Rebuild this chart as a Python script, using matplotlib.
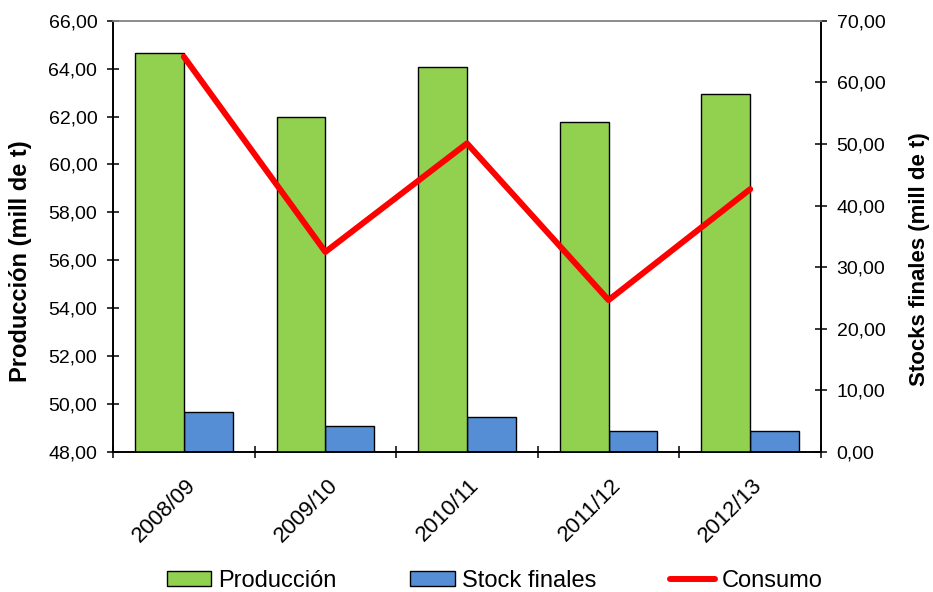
import matplotlib
matplotlib.use("Agg")
import matplotlib.pyplot as plt
import matplotlib.transforms as mtransforms
from matplotlib.ticker import FuncFormatter, FixedLocator
import numpy as np

plt.rcParams['font.family'] = ['Liberation Sans', 'DejaVu Sans']

categories = ["2008/09", "2009/10", "2010/11", "2011/12", "2012/13"]
produccion = [64.66, 61.98, 64.07, 61.76, 62.94]
stock_finales = [6.54, 4.28, 5.70, 3.41, 3.41]
consumo = [64.50, 56.35, 60.88, 54.34, 58.97]

green = "#92D050"
blue = "#558ED5"
red = "#FF0000"

fig = plt.figure(figsize=(9.33, 5.92), dpi=100)
ax = fig.add_axes([113/933, 1-452/592, (821-113)/933, (452-20.7)/592])
ax2 = ax.twinx()
ax.set_zorder(ax2.get_zorder() + 1)
ax.patch.set_visible(False)

x = np.arange(len(categories))
w = 0.344
b1 = ax.bar(x - w/2, produccion, width=w, color=green, edgecolor="black",
            linewidth=1.0, label="Producción")
b2 = ax2.bar(x + w/2, stock_finales, width=w, color=blue, edgecolor="black",
             linewidth=1.0, label="Stock finales")
l1, = ax.plot(x, consumo, color=red, linewidth=4.3, solid_capstyle="round",
              label="Consumo", zorder=5)

ax.set_xlim(-0.5, len(categories) - 0.5)
ax.set_ylim(48, 66)
ax2.set_ylim(0, 70)
ax.set_yticks(np.arange(48, 66.01, 2))
ax2.set_yticks(np.arange(0, 70.01, 10))

fmt = FuncFormatter(lambda v, p: f"{v:.2f}".replace(".", ","))
ax.yaxis.set_major_formatter(fmt)
ax2.yaxis.set_major_formatter(fmt)

for a in (ax, ax2):
    for s in ("left", "right", "bottom"):
        a.spines[s].set_color("black")
        a.spines[s].set_linewidth(1.2)
    a.spines["top"].set_color("#8c8c8c")
    a.spines["top"].set_linewidth(1.2)

ax.tick_params(axis="y", direction="inout", length=8.6, width=1.1, pad=7,
               labelsize=14, colors="black")
ax2.tick_params(axis="y", direction="inout", length=8.6, width=1.1, pad=7,
                labelsize=14, colors="black")

ax.set_xticks(x)
ax.set_xticklabels(categories, rotation=45, ha="right", va="center",
                   rotation_mode="anchor", fontsize=16)
ax.xaxis.set_minor_locator(FixedLocator(np.arange(-0.5, len(categories), 1.0)))
ax.tick_params(axis="x", which="major", length=0, pad=22)
ax.tick_params(axis="x", which="minor", direction="inout", length=8.6, width=1.1)
offset = mtransforms.ScaledTranslation(9/100, 0, fig.dpi_scale_trans)
for lab in ax.get_xticklabels():
    lab.set_transform(lab.get_transform() + offset)

ax.set_ylabel("Producción (mill de t)", fontsize=17, fontweight="bold")
ax.yaxis.set_label_coords(-0.114, 0.443)
ax2.set_ylabel("Stocks finales (mill de t)", fontsize=16, fontweight="bold")
ax2.yaxis.set_label_coords((909-113)/708, 0.448)

fig.legend([b1, b2, l1], ["Producción", "Stock finales", "Consumo"],
           loc="center", bbox_to_anchor=(0.530, 0.019), ncol=3, frameon=False,
           fontsize=17, handlelength=1.9, handleheight=0.64, handletextpad=0.28,
           columnspacing=3.13, borderpad=0, borderaxespad=0)

fig.savefig("out.png", dpi=100)
